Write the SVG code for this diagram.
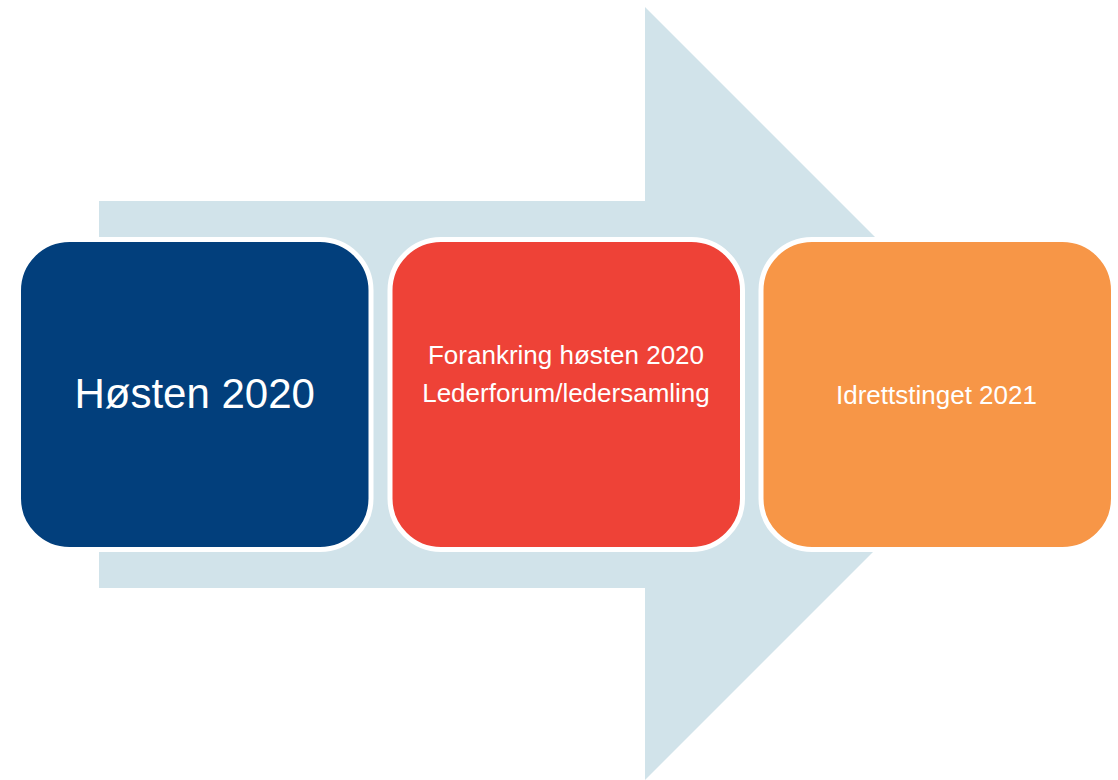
<svg xmlns="http://www.w3.org/2000/svg" width="1118" height="780" viewBox="0 0 1118 780">
<style>
.box{stroke:#FFFFFF;stroke-width:5}
.lbl{font-family:"Liberation Sans",Arial,sans-serif;fill:#FFFFFF;text-anchor:middle}
</style>
<rect width="1118" height="780" fill="#FFFFFF"/>
<g id="arrow">
<path d="M99 201 H645 V7 L1031.5 393.5 L645 780 V588 H99 Z" fill="#D1E3EA"/>
</g>
<g id="node1">
<rect class="box" x="18.5" y="239.5" width="352.5" height="310" rx="51" ry="51" fill="#023F7C"/>
<text class="lbl" x="194.7" y="408" font-size="42">Høsten 2020</text>
</g>
<g id="node2">
<rect class="box" x="390" y="239.5" width="352.5" height="310" rx="51" ry="51" fill="#EE4237"/>
<text class="lbl" x="566" y="364.3" font-size="26">Forankring høsten 2020</text>
<text class="lbl" x="566" y="401.7" font-size="26">Lederforum/ledersamling</text>
</g>
<g id="node3">
<rect class="box" x="761" y="239.5" width="352.5" height="310" rx="51" ry="51" fill="#F79647"/>
<text class="lbl" x="936.5" y="404.3" font-size="26">Idrettstinget 2021</text>
</g>
<g id="connectors"></g>
</svg>
